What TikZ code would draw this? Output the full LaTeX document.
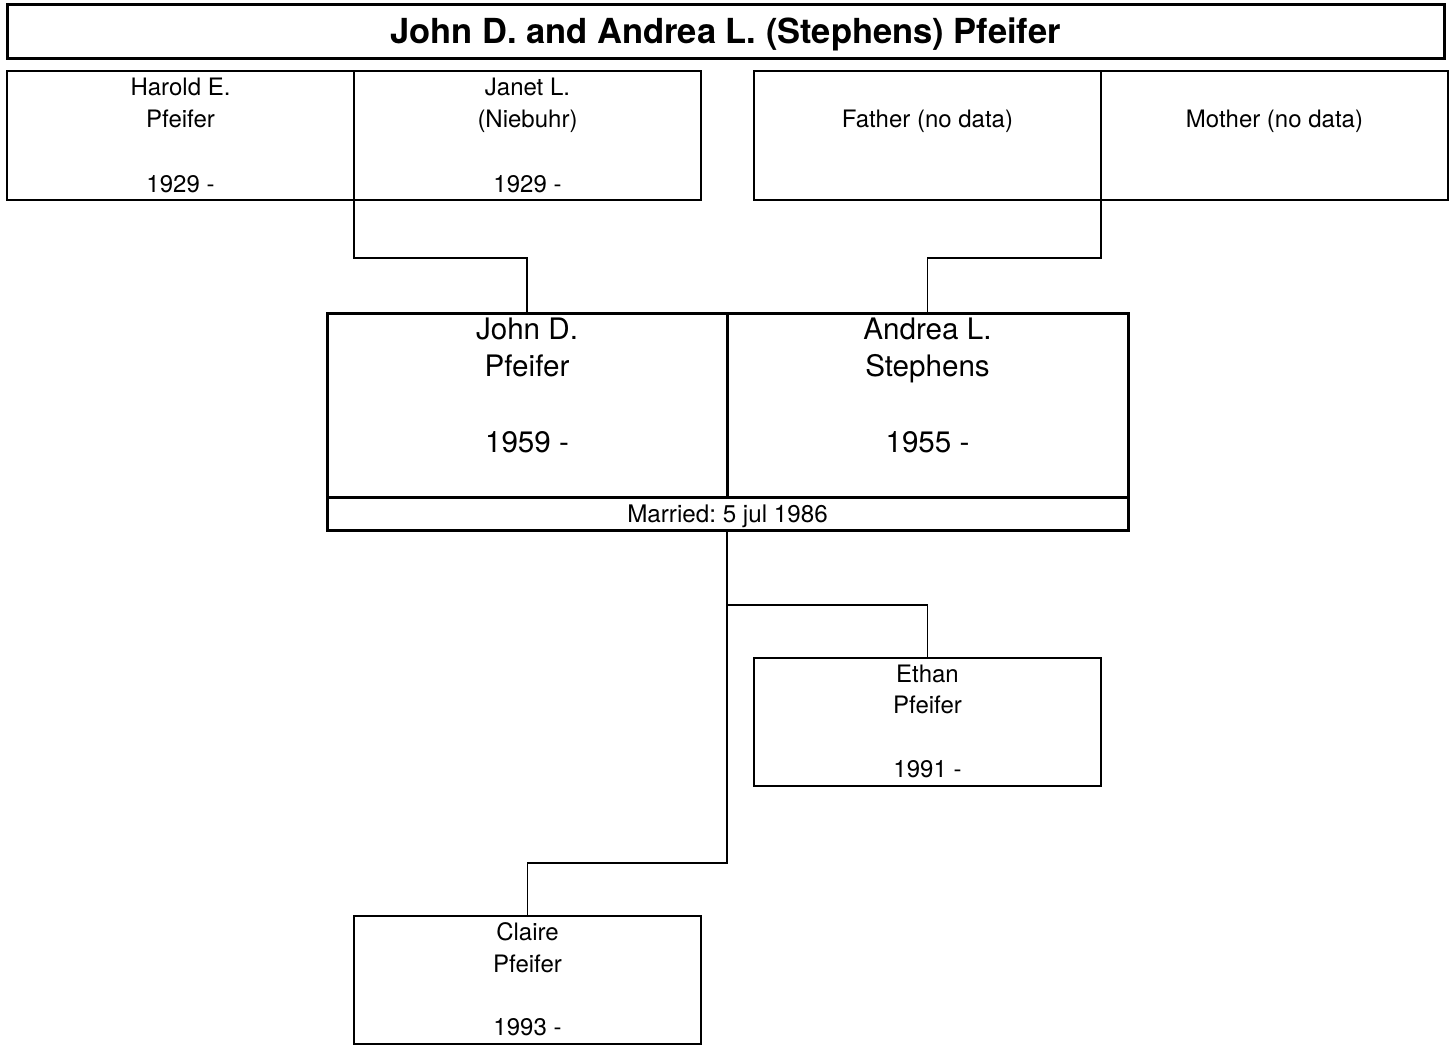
\documentclass[tikz,border=0pt]{standalone}
\usepackage{fontspec}
\setmainfont{TeX Gyre Heros}
\frenchspacing
\begin{document}
\begin{tikzpicture}[x=1bp,y=-1bp,
  box/.style={draw,line width=1.5bp,minimum width=347bp,minimum height=129bp,inner sep=0,outer sep=0,anchor=north west},
  bigbox/.style={draw,line width=3bp,inner sep=0,outer sep=0,anchor=north west},
  conn/.style={line width=1.5bp},
  small/.style={font=\fontsize{24bp}{28bp}\selectfont,anchor=base,inner sep=0},
  large/.style={font=\fontsize{29.6bp}{34bp}\selectfont,anchor=base,inner sep=0},
  mar/.style={font=\fontsize{24.2bp}{28bp}\selectfont,anchor=base,inner sep=0}]
\useasboundingbox (0,0) rectangle (1451,1047);
\fill[white] (0,0) rectangle (1451,1047);
% title
\node[bigbox,minimum width=1437bp,minimum height=54bp] (title) at (7,4) {};
\node[anchor=base,inner sep=0,font=\fontsize{34.5bp}{40bp}\selectfont\bfseries] (ttxt) at (725.5,43) {John D. and Andrea L. (Stephens) Pfeifer};
% parents
\node[box] (harold) at (7,71) {};
\node[box] (janet) at (354,71) {};
\node[box] (father) at (754,71) {};
\node[box] (mother) at (1101,71) {};
\node[small] (h1) at (180.5,95) {Harold E.};
\node[small] (h2) at (180.5,127) {Pfeifer};
\node[small] (h3) at (180.5,192) {1929 -};
\node[small] (j1) at (527.5,95) {Janet L.};
\node[small] (j2) at (527.5,127) {(Niebuhr)};
\node[small] (j3) at (527.5,192) {1929 -};
\node[small] (f1) at (927.5,127) {Father (no data)};
\node[small] (m1) at (1274.5,127) {Mother (no data)};
% couple
\node[bigbox,minimum width=400bp,minimum height=184bp] (john) at (327,313) {};
\node[bigbox,minimum width=401bp,minimum height=184bp] (andrea) at (727,313) {};
\node[bigbox,minimum width=801bp,minimum height=33bp] (married) at (327,497) {};
\node[large] (jo1) at (527,339) {John D.};
\node[large] (jo2) at (527,376) {Pfeifer};
\node[large] (jo3) at (527,452) {1959 -};
\node[large] (a1) at (927.5,339) {Andrea L.};
\node[large] (a2) at (927.5,376) {Stephens};
\node[large] (a3) at (927.5,452) {1955 -};
\node[mar] (mtxt) at (727.5,522) {Married: 5 jul 1986};
% children
\node[box,minimum height=128bp] (ethan) at (754,658) {};
\node[box,minimum height=128bp] (claire) at (354,916) {};
\node[small] (e1) at (927.5,682) {Ethan};
\node[small] (e2) at (927.5,713) {Pfeifer};
\node[small] (e3) at (927.5,777) {1991 -};
\node[small] (c1) at (527.5,940) {Claire};
\node[small] (c2) at (527.5,972) {Pfeifer};
\node[small] (c3) at (527.5,1035) {1993 -};
% connectors
\coordinate (pl) at (354,258);
\coordinate (pr) at (1101,258);
\draw[conn] (janet.south west) -- (pl) -| (john.north);
\draw[conn] (mother.south west) -- (pr) -| (andrea.north);
\coordinate (ktop) at (727,530);
\coordinate (kmid) at (727,605);
\coordinate (kbot) at (727,863);
\draw[conn] (ktop) -- (kbot) -| (claire.north);
\draw[conn] (kmid) -| (ethan.north);
\end{tikzpicture}
\end{document}
